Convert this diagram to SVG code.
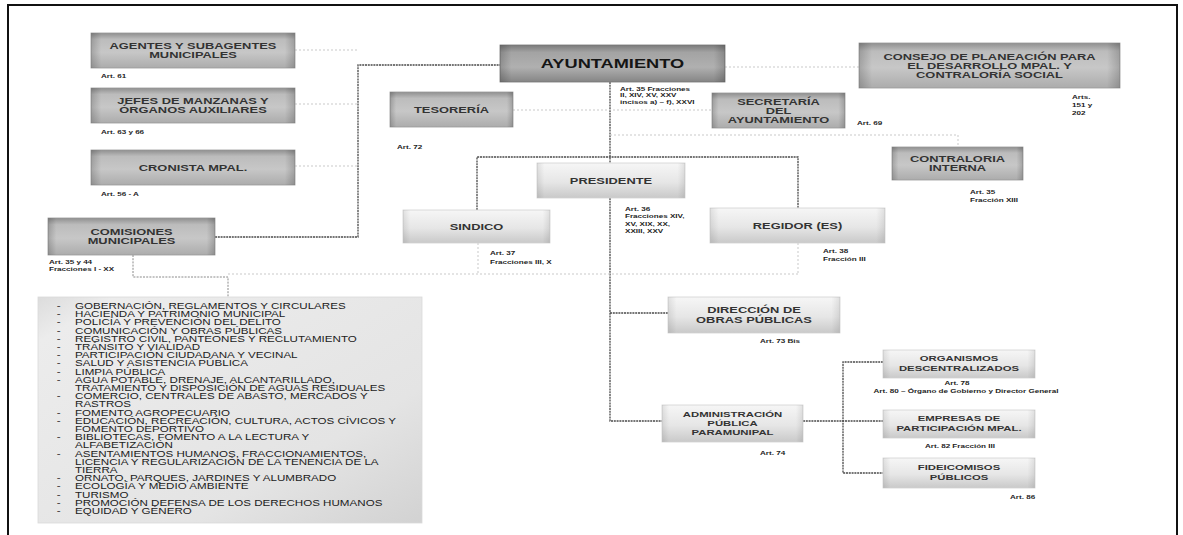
<svg xmlns="http://www.w3.org/2000/svg" width="1183" height="535" viewBox="0 0 1183 535">
<defs>
<linearGradient id="gTop" x1="0" y1="0" x2="0" y2="1">
<stop offset="0" stop-color="#8f8f8f"/><stop offset="0.18" stop-color="#bcbcbc"/><stop offset="0.55" stop-color="#c7c7c7"/><stop offset="1" stop-color="#acacac"/>
</linearGradient>
<linearGradient id="gAyun" x1="0" y1="0" x2="0" y2="1">
<stop offset="0" stop-color="#7a7a7a"/><stop offset="0.2" stop-color="#a3a3a3"/><stop offset="0.6" stop-color="#b0b0b0"/><stop offset="1" stop-color="#858585"/>
</linearGradient>
<linearGradient id="gLow" x1="0" y1="0" x2="0" y2="1">
<stop offset="0" stop-color="#f6f6f6"/><stop offset="0.55" stop-color="#e6e6e6"/><stop offset="1" stop-color="#c9c9c9"/>
</linearGradient>
<linearGradient id="gSide" x1="0" y1="0" x2="1" y2="0">
<stop offset="0" stop-color="#000" stop-opacity="0.18"/><stop offset="0.05" stop-color="#000" stop-opacity="0"/><stop offset="0.95" stop-color="#000" stop-opacity="0"/><stop offset="1" stop-color="#000" stop-opacity="0.18"/>
</linearGradient>
<linearGradient id="gList" x1="0" y1="0" x2="1" y2="1">
<stop offset="0" stop-color="#dcdcdc"/><stop offset="0.1" stop-color="#ececec"/><stop offset="0.7" stop-color="#e4e4e4"/><stop offset="1" stop-color="#d2d2d2"/>
</linearGradient>
</defs>
<style>
.t{font-family:"Liberation Sans",Arial,sans-serif;font-weight:bold;font-size:9.2px;fill:#333;text-anchor:middle}
.ts{font-family:"Liberation Sans",Arial,sans-serif;font-weight:bold;font-size:8.1px;fill:#333;text-anchor:middle}
.ta{font-family:"Liberation Sans",Arial,sans-serif;font-weight:bold;font-size:13.5px;fill:#151515;text-anchor:middle}
.lb{font-family:"Liberation Sans",Arial,sans-serif;font-weight:bold;font-size:6px;fill:#222}
.lbm{font-family:"Liberation Sans",Arial,sans-serif;font-weight:bold;font-size:6px;fill:#222;text-anchor:middle}
.li{font-family:"Liberation Sans",Arial,sans-serif;font-size:8.3px;fill:#222}
.bt{fill:url(#gTop);stroke:#9a9a9a;stroke-width:0.8}
.ba{fill:url(#gAyun);stroke:#777;stroke-width:0.8}
.bl{fill:url(#gLow);stroke:#d2d2d2;stroke-width:0.8}
.sd{fill:url(#gSide)}
.cd{fill:none;stroke:#4a4a4a;stroke-width:1.3;stroke-dasharray:2 0.8}
.cm{fill:none;stroke:#8a8a8a;stroke-width:1;stroke-dasharray:2 1.2}
.cf{fill:none;stroke:#c9c9c9;stroke-width:1;stroke-dasharray:2 2}
</style>
<rect x="0" y="0" width="1183" height="535" fill="#fff"/>
<rect id="frame" x="8" y="5" width="1169" height="545" fill="none" stroke="#111" stroke-width="2"/>

<g id="connectors">
<polyline class="cd" points="215,237 358,237 358,65 500,65"/>
<line class="cd" x1="610" y1="82" x2="610" y2="163"/>
<polyline class="cd" points="477,210 477,157 798,157 798,208"/>
<polyline class="cd" points="610,198 610,421 662,421"/>
<line class="cd" x1="610" y1="313" x2="668" y2="313"/>
<line class="cd" x1="803" y1="421" x2="883" y2="421"/>
<polyline class="cd" points="883,362 843,362 843,473 883,473"/>
<polyline class="cm" points="133,255 133,277 228,277 228,297"/>
<line class="cf" x1="295" y1="50" x2="358" y2="50"/>
<line class="cf" x1="295" y1="104" x2="358" y2="104"/>
<line class="cf" x1="295" y1="166" x2="358" y2="166"/>
<line class="cf" x1="513" y1="110" x2="712" y2="110"/>
<line class="cf" x1="725" y1="67" x2="859" y2="67"/>
<polyline class="cf" points="610,135 958,135 958,147"/>
<polyline class="cf" points="228,274 798,274"/>
<line class="cf" x1="478" y1="243" x2="478" y2="274"/>
<line class="cf" x1="798" y1="243" x2="798" y2="274"/>
</g>

<g id="n-agentes">
<rect class="bt" x="91" y="33" width="204" height="35"/><rect class="sd" x="91" y="33" width="204" height="35"/>
<text class="t" transform="translate(193,0) scale(1.4,1)"><tspan x="0" y="49">AGENTES Y SUBAGENTES</tspan><tspan x="0" y="58.5">MUNICIPALES</tspan></text>
<text class="lb" transform="translate(101,0) scale(1.35,1)" y="78">Art. 61</text>
</g>
<g id="n-jefes">
<rect class="bt" x="91" y="88" width="204" height="35"/><rect class="sd" x="91" y="88" width="204" height="35"/>
<text class="t" transform="translate(193,0) scale(1.4,1)"><tspan x="0" y="104">JEFES DE MANZANAS Y</tspan><tspan x="0" y="113.5">ÓRGANOS AUXILIARES</tspan></text>
<text class="lb" transform="translate(101,0) scale(1.35,1)" y="134">Art. 63 y 66</text>
</g>
<g id="n-cronista">
<rect class="bt" x="91" y="150" width="204" height="35"/><rect class="sd" x="91" y="150" width="204" height="35"/>
<text class="t" transform="translate(193,0) scale(1.4,1)" x="0" y="170.8">CRONISTA MPAL.</text>
<text class="lb" transform="translate(101,0) scale(1.35,1)" y="196">Art. 56 - A</text>
</g>
<g id="n-comisiones">
<rect class="bt" x="48" y="218" width="167" height="37"/><rect class="sd" x="48" y="218" width="167" height="37"/>
<text class="t" transform="translate(131.5,0) scale(1.4,1)"><tspan x="0" y="235">COMISIONES</tspan><tspan x="0" y="244.5">MUNICIPALES</tspan></text>
<text class="lb" transform="translate(49,0) scale(1.35,1)"><tspan x="0" y="264">Art. 35 y 44</tspan><tspan x="0" y="271">Fracciones I - XX</tspan></text>
</g>
<g id="n-ayuntamiento">
<rect class="ba" x="500" y="45" width="225" height="37"/><rect class="sd" x="500" y="45" width="225" height="37"/>
<text class="ta" transform="translate(612.5,0) scale(1.35,1)" x="0" y="68.4">AYUNTAMIENTO</text>
<text class="lb" transform="translate(620,0) scale(1.35,1)"><tspan x="0" y="91">Art. 35 Fracciones</tspan><tspan x="0" y="97.5">II, XIV, XV, XXV</tspan><tspan x="0" y="104">incisos a) – f), XXVI</tspan></text>
</g>
<g id="n-tesoreria">
<rect class="bt" x="390" y="92" width="123" height="35"/><rect class="sd" x="390" y="92" width="123" height="35"/>
<text class="t" transform="translate(451.5,0) scale(1.4,1)" x="0" y="112.8">TESORERÍA</text>
<text class="lb" transform="translate(397,0) scale(1.35,1)" y="149">Art. 72</text>
</g>
<g id="n-secretaria">
<rect class="bt" x="712" y="93" width="133" height="35"/><rect class="sd" x="712" y="93" width="133" height="35"/>
<text class="t" transform="translate(778.5,0) scale(1.4,1)"><tspan x="0" y="104.8">SECRETARÍA</tspan><tspan x="0" y="113.8">DEL</tspan><tspan x="0" y="122.8">AYUNTAMIENTO</tspan></text>
<text class="lb" transform="translate(857,0) scale(1.35,1)" y="125">Art. 69</text>
</g>
<g id="n-consejo">
<rect class="bt" x="859" y="43" width="261" height="45"/><rect class="sd" x="859" y="43" width="261" height="45"/>
<text class="t" transform="translate(989.5,0) scale(1.4,1)"><tspan x="0" y="59.8">CONSEJO DE PLANEACIÓN PARA</tspan><tspan x="0" y="68.8">EL DESARROLLO MPAL. Y</tspan><tspan x="0" y="77.8">CONTRALORÍA SOCIAL</tspan></text>
<text class="lb" transform="translate(1072,0) scale(1.35,1)"><tspan x="0" y="99">Arts.</tspan><tspan x="0" y="107">151 y</tspan><tspan x="0" y="115">202</tspan></text>
</g>
<g id="n-contraloria">
<rect class="bt" x="892" y="147" width="131" height="33"/><rect class="sd" x="892" y="147" width="131" height="33"/>
<text class="t" transform="translate(957.5,0) scale(1.4,1)"><tspan x="0" y="162">CONTRALORIA</tspan><tspan x="0" y="171.5">INTERNA</tspan></text>
<text class="lb" transform="translate(970,0) scale(1.35,1)"><tspan x="0" y="194">Art. 35</tspan><tspan x="0" y="202">Fracción XIII</tspan></text>
</g>
<g id="n-presidente">
<rect class="bl" x="537" y="163" width="148" height="35"/><rect class="sd" x="537" y="163" width="148" height="35" opacity="0.5"/>
<text class="t" transform="translate(611,0) scale(1.4,1)" x="0" y="183.8">PRESIDENTE</text>
<text class="lb" transform="translate(625,0) scale(1.35,1)"><tspan x="0" y="211">Art. 36</tspan><tspan x="0" y="218.5">Fracciones XIV,</tspan><tspan x="0" y="226">XV, XIX, XX,</tspan><tspan x="0" y="233.5">XXIII, XXV</tspan></text>
</g>
<g id="n-sindico">
<rect class="bl" x="403" y="210" width="147" height="33"/><rect class="sd" x="403" y="210" width="147" height="33" opacity="0.5"/>
<text class="t" transform="translate(476.5,0) scale(1.4,1)" x="0" y="229.8">SINDICO</text>
<text class="lb" transform="translate(490,0) scale(1.35,1)"><tspan x="0" y="255">Art. 37</tspan><tspan x="0" y="264">Fracciones III, X</tspan></text>
</g>
<g id="n-regidor">
<rect class="bl" x="710" y="208" width="175" height="35"/><rect class="sd" x="710" y="208" width="175" height="35" opacity="0.5"/>
<text class="t" transform="translate(797.5,0) scale(1.4,1)" x="0" y="228.8">REGIDOR (ES)</text>
<text class="lb" transform="translate(823,0) scale(1.35,1)"><tspan x="0" y="253">Art. 38</tspan><tspan x="0" y="261">Fracción III</tspan></text>
</g>
<g id="n-direccion">
<rect class="bl" x="668" y="297" width="172" height="36"/><rect class="sd" x="668" y="297" width="172" height="36" opacity="0.5"/>
<text class="t" transform="translate(754,0) scale(1.4,1)"><tspan x="0" y="313.5">DIRECCIÓN DE</tspan><tspan x="0" y="323">OBRAS PÚBLICAS</tspan></text>
<text class="lb" transform="translate(760,0) scale(1.35,1)" y="343">Art. 73 Bis</text>
</g>
<g id="n-administracion">
<rect class="bl" x="662" y="405" width="141" height="37"/><rect class="sd" x="662" y="405" width="141" height="37" opacity="0.5"/>
<text class="ts" transform="translate(732.5,0) scale(1.4,1)"><tspan x="0" y="417.5">ADMINISTRACIÓN</tspan><tspan x="0" y="426.5">PÚBLICA</tspan><tspan x="0" y="435.5">PARAMUNIPAL</tspan></text>
<text class="lb" transform="translate(760,0) scale(1.35,1)" y="455">Art. 74</text>
</g>
<g id="n-organismos">
<rect class="bl" x="883" y="350" width="152" height="28"/><rect class="sd" x="883" y="350" width="152" height="28" opacity="0.5"/>
<text class="ts" transform="translate(959,0) scale(1.4,1)"><tspan x="0" y="361.5">ORGANISMOS</tspan><tspan x="0" y="371">DESCENTRALIZADOS</tspan></text>
<text class="lbm" transform="translate(957,0) scale(1.35,1)" x="0" y="385">Art. 78</text>
<text class="lbm" transform="translate(966,0) scale(1.35,1)" x="0" y="393">Art. 80  – Órgano de Gobierno y Director General</text>
</g>
<g id="n-empresas">
<rect class="bl" x="883" y="410" width="152" height="28"/><rect class="sd" x="883" y="410" width="152" height="28" opacity="0.5"/>
<text class="ts" transform="translate(959,0) scale(1.4,1)"><tspan x="0" y="421.5">EMPRESAS DE</tspan><tspan x="0" y="431">PARTICIPACIÓN MPAL.</tspan></text>
<text class="lbm" transform="translate(960,0) scale(1.35,1)" x="0" y="448">Art. 82 Fracción III</text>
</g>
<g id="n-fideicomisos">
<rect class="bl" x="883" y="458" width="152" height="30"/><rect class="sd" x="883" y="458" width="152" height="30" opacity="0.5"/>
<text class="ts" transform="translate(959,0) scale(1.4,1)"><tspan x="0" y="470.5">FIDEICOMISOS</tspan><tspan x="0" y="480">PÚBLICOS</tspan></text>
<text class="lb" transform="translate(1010,0) scale(1.35,1)" y="499">Art. 86</text>
</g>

<g id="n-lista">
<rect x="38" y="297" width="384" height="226" fill="url(#gList)" stroke="#dadada" stroke-width="0.8"/>
<g transform="translate(75,0) scale(1.4,1)">
<text class="li"><tspan x="-13" y="309">-</tspan><tspan x="0" y="309">GOBERNACIÓN, REGLAMENTOS Y CIRCULARES</tspan>
<tspan x="-13" y="317.2">-</tspan><tspan x="0" y="317.2">HACIENDA Y PATRIMONIO MUNICIPAL</tspan>
<tspan x="-13" y="325.4">-</tspan><tspan x="0" y="325.4">POLICÍA Y PREVENCIÓN DEL DELITO</tspan>
<tspan x="-13" y="333.6">-</tspan><tspan x="0" y="333.6">COMUNICACIÓN Y OBRAS PÚBLICAS</tspan>
<tspan x="-13" y="341.8">-</tspan><tspan x="0" y="341.8">REGISTRO CIVIL, PANTEONES Y  RECLUTAMIENTO</tspan>
<tspan x="-13" y="350">-</tspan><tspan x="0" y="350">TRÁNSITO Y  VIALIDAD</tspan>
<tspan x="-13" y="358.2">-</tspan><tspan x="0" y="358.2">PARTICIPACIÓN CIUDADANA Y  VECINAL</tspan>
<tspan x="-13" y="366.4">-</tspan><tspan x="0" y="366.4">SALUD Y ASISTENCIA PÚBLICA</tspan>
<tspan x="-13" y="374.6">-</tspan><tspan x="0" y="374.6">LIMPIA PÚBLICA</tspan>
<tspan x="-13" y="382.8">-</tspan><tspan x="0" y="382.8">AGUA POTABLE, DRENAJE, ALCANTARILLADO,</tspan>
<tspan x="0" y="391">TRATAMIENTO Y DISPOSICIÓN DE AGUAS RESIDUALES</tspan>
<tspan x="-13" y="399.2">-</tspan><tspan x="0" y="399.2">COMERCIO, CENTRALES DE ABASTO, MERCADOS Y</tspan>
<tspan x="0" y="407.4">RASTROS</tspan>
<tspan x="-13" y="415.6">-</tspan><tspan x="0" y="415.6">FOMENTO AGROPECUARIO</tspan>
<tspan x="-13" y="423.8">-</tspan><tspan x="0" y="423.8">EDUCACIÓN, RECREACIÓN, CULTURA, ACTOS CÍVICOS Y</tspan>
<tspan x="0" y="432">FOMENTO DEPORTIVO</tspan>
<tspan x="-13" y="440.2">-</tspan><tspan x="0" y="440.2">BIBLIOTECAS, FOMENTO A LA LECTURA Y</tspan>
<tspan x="0" y="448.4">ALFABETIZACIÓN</tspan>
<tspan x="-13" y="456.6">-</tspan><tspan x="0" y="456.6">ASENTAMIENTOS HUMANOS, FRACCIONAMIENTOS,</tspan>
<tspan x="0" y="464.8">LICENCIA Y REGULARIZACIÓN DE LA TENENCIA DE LA</tspan>
<tspan x="0" y="473">TIERRA</tspan>
<tspan x="-13" y="481.2">-</tspan><tspan x="0" y="481.2">ORNATO,  PARQUES, JARDINES Y ALUMBRADO</tspan>
<tspan x="-13" y="489.4">-</tspan><tspan x="0" y="489.4">ECOLOGÍA  Y  MEDIO AMBIENTE</tspan>
<tspan x="-13" y="497.6">-</tspan><tspan x="0" y="497.6">TURISMO</tspan>
<tspan x="-13" y="505.8">-</tspan><tspan x="0" y="505.8">PROMOCIÓN DEFENSA  DE  LOS  DERECHOS HUMANOS</tspan>
<tspan x="-13" y="514">-</tspan><tspan x="0" y="514">EQUIDAD Y GÉNERO</tspan></text>
</g>
</g>
</svg>
